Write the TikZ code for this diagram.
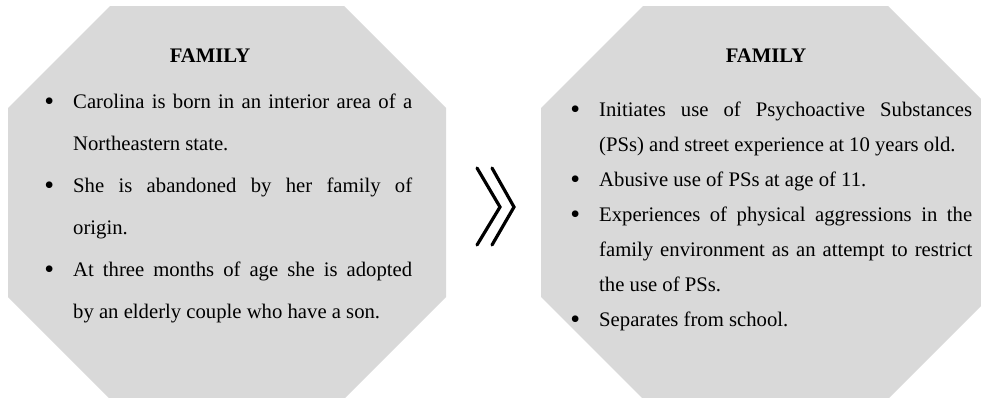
\documentclass[tikz,border=0pt]{standalone}
\usepackage{fontspec}
\setmainfont{Liberation Serif}
\definecolor{boxgray}{RGB}{217,217,217}
\newcommand{\fambullet}{{\fontsize{28}{28}\selectfont\raisebox{-2.7pt}{\textbullet}}}
% bullet list used inside the two octagons
\newenvironment{famlist}[1]{%
  \fontsize{20.7}{#1}\selectfont
  \setlength{\linewidth}{\hsize}%
  \begin{list}{\fambullet}{\setlength{\leftmargin}{25pt}\setlength{\labelsep}{19pt}%
    \setlength{\labelwidth}{12pt}\setlength{\itemsep}{0pt}\setlength{\parsep}{0pt}%
    \setlength{\topsep}{0pt}\setlength{\partopsep}{0pt}\setlength{\itemindent}{0pt}}}
  {\end{list}}

\begin{document}
\begin{tikzpicture}[x=1pt,y=-1pt,
    title/.style={anchor=base,inner sep=0pt,font=\fontsize{20.7}{25}\selectfont\bfseries},
    textbox/.style={anchor=north west,inner sep=0pt,align=justify},
    chev/.style={line width=3.2pt,line cap=round}]
    \useasboundingbox (0,0) rectangle (981,397);
    % the two octagons
    \fill[boxgray] (8,108) -- (110,6) -- (344,6) -- (446,108) -- (446,297) -- (344,399) -- (110,399) -- (8,297) -- cycle;
    \fill[boxgray] (541,108) -- (643,6) -- (888,6) -- (990,108) -- (990,297) -- (888,399) -- (643,399) -- (541,297) -- cycle;
    % left box
    \node[title] (lefttitle) at (210,62) {FAMILY};
    \node[textbox,text width=364pt] (leftlist) at (48,66) {%
      \begin{famlist}{42}
      \item Carolina is born in an interior area of a\linebreak Northeastern state.
      \item She is abandoned by her family of\linebreak origin.
      \item At three months of age she is adopted\linebreak by an elderly couple who have a son.
      \end{famlist}};
    % right box
    \node[title] (righttitle) at (766,62) {FAMILY};
    \node[textbox,text width=398pt] (rightlist) at (574,81) {%
      \begin{famlist}{35}
      \item Initiates use of Psychoactive Substances\linebreak (PSs) and street experience at 10 years old.
      \item Abusive use of PSs at age of 11.
      \item Experiences of physical aggressions in the\linebreak family environment as an attempt to restrict\linebreak the use of PSs.
      \item Separates from school.
      \end{famlist}};
    % double chevron between the boxes
    \draw[chev] (477,168) -- (500,207) -- (477,245);
    \draw[chev] (492,168) -- (514,207) -- (492,245);
\end{tikzpicture}
\end{document}
